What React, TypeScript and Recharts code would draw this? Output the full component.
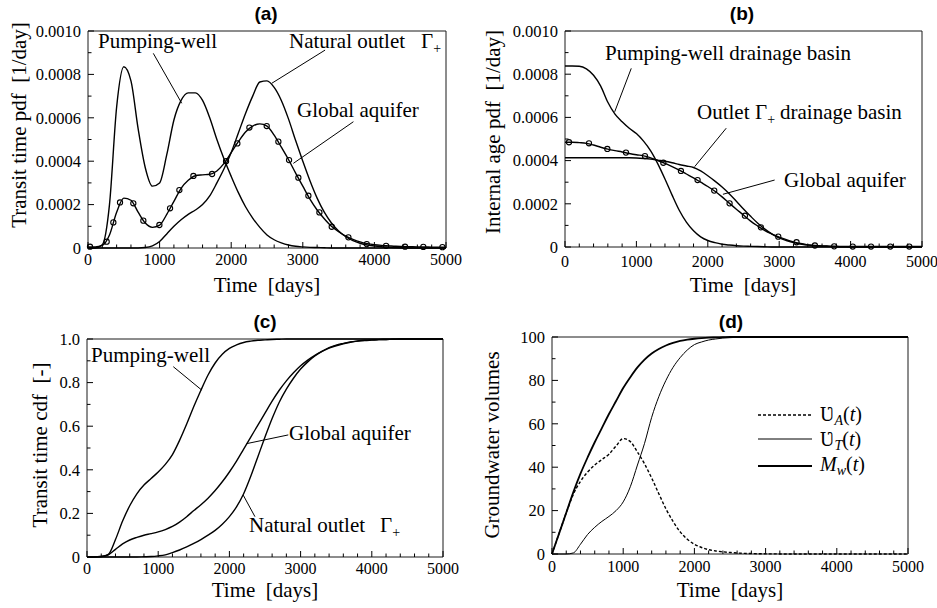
import React from 'react'
import { ComposedChart, Line, XAxis, YAxis, ReferenceArea, ReferenceLine } from 'recharts'

const SERIF = '"Liberation Serif", "Times New Roman", serif'
const SANS = '"Liberation Sans", Arial, sans-serif'

// time grid, days
const days = [
  0, 100, 200, 300, 400, 500, 600, 700, 800, 900, 1000, 1100, 1200, 1300, 1400, 1500, 1600, 1700,
  1800, 1900, 2000, 2100, 2200, 2300, 2400, 2500, 2600, 2700, 2800, 2900, 3000, 3100, 3200, 3300,
  3400, 3500, 3600, 3700, 3800, 3900, 4000, 4100, 4200, 4300, 4400, 4500, 4600, 4700, 4800, 4900, 5000,
]

// (a) transit time pdf, in 1e-4 / day
const pumpA = [
  0, 0, 0.15, 2.0, 6.5, 8.35, 7.7, 5.5, 3.7, 2.85, 3.0, 4.3, 5.9, 6.8, 7.15, 7.15, 6.8, 6.0, 5.0, 4.1,
  3.3, 2.55, 1.9, 1.38, 0.95, 0.6, 0.38, 0.24, 0.14, 0.08, 0.05, 0.03, 0.02, 0.01,
  0, 0, 0, 0, 0, 0, 0, 0, 0, 0, 0, 0, 0, 0, 0, 0, 0,
]
const outletA = [
  0, 0, 0, 0, 0, 0, 0, 0, 0.02, 0.1, 0.3, 0.65, 1.0, 1.3, 1.55, 1.75, 2.0, 2.4, 3.0, 3.65, 4.4, 5.3,
  6.2, 7.0, 7.65, 7.7, 7.4, 6.8, 5.95, 4.95, 4.0, 3.1, 2.3, 1.65, 1.15, 0.78, 0.52, 0.34, 0.22, 0.14,
  0.09, 0.06, 0.04, 0.02, 0.01, 0, 0, 0, 0, 0, 0,
]
const globalA = [
  0.05, 0.05, 0.12, 0.6, 1.65, 2.3, 2.2, 1.65, 1.15, 0.95, 1.05, 1.55, 2.15, 2.75, 3.12, 3.33, 3.37,
  3.4, 3.55, 3.9, 4.4, 4.9, 5.35, 5.62, 5.72, 5.62, 5.2, 4.65, 4.08, 3.45, 2.85, 2.25, 1.75, 1.35, 1.0,
  0.75, 0.55, 0.4, 0.28, 0.2, 0.15, 0.12, 0.1, 0.08, 0.07, 0.06, 0.05, 0.05, 0.04, 0.04, 0.04,
]
const markDaysA = [28, 261, 354, 447, 633, 773, 997, 1146, 1276, 1472, 1733, 1928, 2086, 2254, 2496, 2659, 2808, 2938, 3078, 3232, 3404, 3637, 3893, 4163, 4428, 4683, 4950]
const markValsA = [0.06, 0.29, 1.18, 2.1, 2.06, 1.26, 1.06, 1.83, 2.67, 3.32, 3.41, 4.0, 4.82, 5.55, 5.62, 4.9, 4.05, 3.24, 2.41, 1.64, 0.98, 0.49, 0.18, 0.1, 0.06, 0.05, 0.04]

// (b) internal age pdf, in 1e-4 / day
const pumpB = [
  8.38, 8.38, 8.37, 8.25, 7.95, 7.45, 6.7, 6.15, 5.8, 5.5, 5.25, 4.9, 4.45, 3.85, 3.15, 2.4, 1.7, 1.15,
  0.75, 0.47, 0.3, 0.2, 0.13, 0.09, 0.06, 0.04, 0.03, 0.02, 0.01,
  0, 0, 0, 0, 0, 0, 0, 0, 0, 0, 0, 0, 0, 0, 0, 0, 0, 0, 0, 0, 0, 0,
]
const outletB = [
  4.13, 4.13, 4.13, 4.13, 4.13, 4.13, 4.13, 4.13, 4.13, 4.13, 4.12, 4.1, 4.07, 4.02, 3.97, 3.9, 3.82,
  3.75, 3.68, 3.52, 3.3, 3.05, 2.78, 2.47, 2.12, 1.76, 1.42, 1.1, 0.83, 0.6, 0.42, 0.3, 0.2, 0.14,
  0.09, 0.06, 0.04, 0.03, 0.02, 0.01, 0, 0, 0, 0, 0, 0, 0, 0, 0, 0, 0,
]
const globalB = [
  4.85, 4.85, 4.83, 4.8, 4.72, 4.62, 4.53, 4.46, 4.4, 4.33, 4.27, 4.22, 4.13, 4.0, 3.87, 3.72, 3.56,
  3.38, 3.2, 3.0, 2.8, 2.58, 2.32, 2.03, 1.75, 1.48, 1.2, 0.97, 0.76, 0.6, 0.46, 0.34, 0.24, 0.16, 0.1,
  0.07, 0.05, 0.04, 0.03, 0.02, 0.02, 0.02, 0.02, 0.02, 0.02, 0.02, 0.02, 0.02, 0.02, 0.02, 0.02,
]
const markDaysB = [56, 336, 593, 854, 1120, 1377, 1624, 1857, 2090, 2305, 2520, 2744, 2987, 3243, 3500, 3770, 4030, 4286, 4556, 4822]
const markValsB = [4.85, 4.8, 4.54, 4.37, 4.21, 3.9, 3.52, 3.1, 2.61, 2.02, 1.45, 0.91, 0.48, 0.22, 0.07, 0.03, 0.02, 0.02, 0.02, 0.02]

// (c) transit time cdf
const pumpC = [
  0, 0, 0.002, 0.012, 0.08, 0.165, 0.235, 0.29, 0.33, 0.36, 0.39, 0.425, 0.47, 0.535, 0.61, 0.69,
  0.765, 0.835, 0.89, 0.93, 0.957, 0.973, 0.984, 0.99, 0.994, 0.996, 0.998, 0.999,
  1, 1, 1, 1, 1, 1, 1, 1, 1, 1, 1, 1, 1, 1, 1, 1, 1, 1, 1, 1, 1, 1, 1,
]
const globalC = [
  0, 0, 0.002, 0.01, 0.035, 0.06, 0.078, 0.09, 0.1, 0.107, 0.115, 0.126, 0.14, 0.16, 0.185, 0.213,
  0.24, 0.27, 0.305, 0.345, 0.39, 0.44, 0.495, 0.55, 0.605, 0.66, 0.715, 0.765, 0.808, 0.845, 0.877,
  0.903, 0.925, 0.943, 0.958, 0.969, 0.978, 0.985, 0.99, 0.993, 0.995, 0.997, 0.998, 0.999,
  1, 1, 1, 1, 1, 1, 1,
]
const outletC = [
  0, 0, 0, 0, 0, 0, 0, 0, 0.001, 0.002, 0.005, 0.01, 0.02, 0.032, 0.046, 0.062, 0.08, 0.1, 0.122,
  0.15, 0.185, 0.23, 0.29, 0.37, 0.46, 0.55, 0.635, 0.71, 0.77, 0.82, 0.862, 0.895, 0.922, 0.943,
  0.96, 0.972, 0.98, 0.987, 0.991, 0.994, 0.996, 0.997, 0.998, 0.999, 1, 1, 1, 1, 1, 1, 1,
]

// (d) groundwater volumes
const upsA = [
  0, 9.5, 19, 27.5, 33.5, 37.8, 41, 43.5, 46, 49.8, 53.2, 51.8, 47, 41.5, 35, 27.8, 20.8, 15, 10.2,
  6.8, 4.5, 3, 2, 1.4, 1, 0.7, 0.45, 0.3, 0.2, 0.12, 0.08, 0.05, 0.03, 0.02, 0.01,
  0, 0, 0, 0, 0, 0, 0, 0, 0, 0, 0, 0, 0, 0, 0, 0,
]
const upsT = [
  0, 0, 0, 0.5, 4.5, 9, 12.3, 15, 17.3, 20, 24, 31, 41, 51, 63, 72.5, 80, 86, 90.5, 94, 96.5, 97.7,
  98.6, 99.1, 99.5, 99.7, 99.85, 99.93, 100, 100, 100, 100, 100, 100, 100, 100, 100, 100, 100, 100,
  100, 100, 100, 100, 100, 100, 100, 100, 100, 100, 100,
]
const massW = [
  0, 9.5, 19, 28.5, 37, 44.5, 51.5, 58, 64.5, 70.5, 76.5, 81.5, 86, 89.6, 92.4, 94.5, 96.1, 97.3,
  98.2, 98.8, 99.2, 99.5, 99.7, 99.8, 99.9, 100, 100, 100, 100, 100, 100, 100, 100, 100, 100, 100,
  100, 100, 100, 100, 100, 100, 100, 100, 100, 100, 100, 100, 100, 100, 100,
]

const xTicks = [0, 200, 400, 600, 800, 1000, 1200, 1400, 1600, 1800, 2000, 2200, 2400, 2600, 2800, 3000, 3200, 3400, 3600, 3800, 4000, 4200, 4400, 4600, 4800, 5000]
const pdfTicks = [0, 0.0001, 0.0002, 0.0003, 0.0004, 0.0005, 0.0006, 0.0007, 0.0008, 0.0009, 0.001]
const cdfTicks = [0, 0.1, 0.2, 0.3, 0.4, 0.5, 0.6, 0.7, 0.8, 0.9, 1]
const volTicks = [0, 10, 20, 30, 40, 50, 60, 70, 80, 90, 100]

const E4 = 1e-4
const rowsA = days.map((t, i) => ({ t, pump: pumpA[i] * E4, outlet: outletA[i] * E4, global: globalA[i] * E4 }))
const rowsB = days.map((t, i) => ({ t, pump: pumpB[i] * E4, outlet: outletB[i] * E4, global: globalB[i] * E4 }))
const rowsC = days.map((t, i) => ({ t, pump: pumpC[i], outlet: outletC[i], global: globalC[i] }))
const rowsD = days.map((t, i) => ({ t, ua: upsA[i], ut: upsT[i], mw: massW[i] }))
const marksA = markDaysA.map((t, i) => ({ t, v: markValsA[i] * E4 }))
const marksB = markDaysB.map((t, i) => ({ t, v: markValsB[i] * E4 }))

// leader lines from labels to curves, [day, value]
type Pt = [number, number]
const leadersA: [Pt, Pt][] = [
  [[912, 8.97 * E4], [1309, 6.67 * E4]],
  [[3311, 9.12 * E4], [2566, 7.59 * E4]],
  [[3707, 5.82 * E4], [2868, 3.9 * E4]],
]
const leadersB: [Pt, Pt][] = [
  [[928, 8.27 * E4], [696, 6.26 * E4]],
  [[2258, 5.5 * E4], [1816, 3.72 * E4]],
  [[2936, 3.1 * E4], [2212, 2.44 * E4]],
]
const leadersC: [Pt, Pt][] = [
  [[1212, 0.873], [1610, 0.766]],
  [[2827, 0.56], [2242, 0.52]],
  [[2359, 0.185], [2194, 0.284]],
]

const near = (v: number, step: number) => Math.abs(v / step - Math.round(v / step)) < 1e-6

function XTick(props: any) {
  const { x, y, payload, labelDy } = props
  const v = payload.value
  const major = near(v, 1000)
  return (
    <g>
      <line x1={x} x2={x} y1={y} y2={y - (major ? 6 : 3.5)} stroke="#000" strokeWidth={1} />
      {major && (
        <text x={x} y={y + labelDy} textAnchor={v === 5000 ? 'end' : 'middle'} dx={v === 5000 ? 16 : 0} fontFamily={SERIF} fontSize={16} fill="#000">
          {v}
        </text>
      )}
    </g>
  )
}

function YTick(props: any) {
  const { x, y, payload, step, fmt } = props
  const v = payload.value
  const major = near(v, step)
  return (
    <g>
      <line x1={x} x2={x + (major ? 6 : 3.5)} y1={y} y2={y} stroke="#000" strokeWidth={1} />
      {major && (
        <text x={x - 7} y={y} dy="0.35em" textAnchor="end" fontFamily={SERIF} fontSize={16.5} fill="#000">
          {fmt(v)}
        </text>
      )}
    </g>
  )
}

interface SeriesDef {
  key: string
  width: number
  dash?: string
}

interface PanelProps {
  left: number
  top: number
  width: number
  height: number
  margin: { top: number; right: number; bottom: number; left: number }
  rows: any[]
  series: SeriesDef[]
  yMax: number
  yTicks: number[]
  yStep: number
  yFmt: (v: number) => string
  xLabelDy: number
  marks?: { t: number; v: number }[]
  leaders?: [Pt, Pt][]
}

function Panel(p: PanelProps) {
  return (
    <div style={{ position: 'absolute', left: p.left, top: p.top }}>
      <ComposedChart width={p.width} height={p.height} data={p.rows} margin={p.margin}>
        <XAxis
          dataKey="t"
          type="number"
          domain={[0, 5000]}
          ticks={xTicks}
          interval={0}
          height={30}
          axisLine={false}
          tickLine={false}
          tickSize={0}
          tickMargin={0}
          tick={(tp: any) => <XTick {...tp} labelDy={p.xLabelDy} />}
        />
        <YAxis
          type="number"
          domain={[0, p.yMax]}
          ticks={p.yTicks}
          interval={0}
          width={60}
          axisLine={false}
          tickLine={false}
          tickSize={0}
          tickMargin={0}
          tick={(tp: any) => <YTick {...tp} step={p.yStep} fmt={p.yFmt} />}
        />
        <ReferenceArea x1={0} x2={5000} y1={0} y2={p.yMax} fill="none" stroke="#1a1a1a" strokeWidth={1} />
        {(p.leaders || []).map((s, i) => (
          <ReferenceLine
            key={'l' + i}
            segment={[{ x: s[0][0], y: s[0][1] }, { x: s[1][0], y: s[1][1] }]}
            stroke="#000"
            strokeWidth={1}
          />
        ))}
        {p.series.map((s) => (
          <Line
            key={s.key}
            dataKey={s.key}
            type="monotone"
            stroke="#000"
            strokeWidth={s.width}
            strokeDasharray={s.dash}
            dot={false}
            activeDot={false}
            isAnimationActive={false}
          />
        ))}
        {p.marks && (
          <Line
            data={p.marks}
            dataKey="v"
            stroke="none"
            strokeWidth={0}
            activeDot={false}
            isAnimationActive={false}
            dot={(d: any) => (
              <circle key={'m' + d.index} cx={d.cx} cy={d.cy} r={2.6} fill="none" stroke="#000" strokeWidth={1.1} />
            )}
          />
        )}
      </ComposedChart>
    </div>
  )
}

const pdfFmt = (v: number) => (v === 0 ? '0' : v.toFixed(4))
const cdfFmt = (v: number) => (v === 0 ? '0' : v.toFixed(1))
const volFmt = (v: number) => String(v)

const pdfSeries: SeriesDef[] = [
  { key: 'pump', width: 1.4 },
  { key: 'outlet', width: 1.4 },
  { key: 'global', width: 1.4 },
]

function Gamma({ x, y }: { x: number; y: number }) {
  return (
    <text x={x} y={y} fontFamily={SERIF} fontSize={21} fill="#000">
      Γ<tspan dy={5} fontSize={14}>+</tspan>
    </text>
  )
}

function Overlay() {
  const t = { fontFamily: SERIF, fontSize: 21, fill: '#000' }
  const title = { fontFamily: SANS, fontSize: 19, fontWeight: 700, fill: '#000', textAnchor: 'middle' as const }
  const pre = { whiteSpace: 'pre' as const }
  return (
    <svg width={937} height={608} style={{ position: 'absolute', left: 0, top: 0, pointerEvents: 'none' }}>
      <text x={266} y={20} {...title}>(a)</text>
      <text x={742} y={20} {...title}>(b)</text>
      <text x={265} y={328} {...title}>(c)</text>
      <text x={731} y={328} {...title}>(d)</text>

      <text x={267} y={292} textAnchor="middle" style={pre} {...t}>Time  [days]</text>
      <text x={743} y={292} textAnchor="middle" style={pre} {...t}>Time  [days]</text>
      <text x={265} y={597} textAnchor="middle" style={pre} {...t}>Time  [days]</text>
      <text x={730} y={597} textAnchor="middle" style={pre} {...t}>Time  [days]</text>

      <text transform="translate(26,125) rotate(-90)" textAnchor="middle" style={pre} {...t}>Transit time pdf  [1/day]</text>
      <text transform="translate(500,132) rotate(-90)" textAnchor="middle" style={pre} {...t}>Internal age pdf  [1/day]</text>
      <text transform="translate(47,445) rotate(-90)" textAnchor="middle" style={pre} {...t}>Transit time cdf  [-]</text>
      <text transform="translate(499,445) rotate(-90)" textAnchor="middle" style={pre} {...t}>Groundwater volumes</text>

      {/* panel (a) labels */}
      <text x={98} y={48} {...t}>Pumping-well</text>
      <text x={289} y={48} {...t}>Natural outlet</text>
      <Gamma x={421} y={48} />
      <text x={297} y={117} {...t}>Global aquifer</text>

      {/* panel (b) labels */}
      <text x={605} y={60} {...t}>Pumping-well drainage basin</text>
      <text x={697} y={119} {...t}>Outlet</text>
      <Gamma x={755} y={119} />
      <text x={780} y={119} {...t}>drainage basin</text>
      <text x={784} y={187} {...t}>Global aquifer</text>

      {/* panel (c) labels */}
      <text x={91} y={362} {...t}>Pumping-well</text>
      <text x={289} y={440} {...t}>Global aquifer</text>
      <text x={249} y={532} {...t}>Natural outlet</text>
      <Gamma x={380} y={532} />

      {/* panel (d) legend */}
      <line x1={758} x2={812} y1={415} y2={415} stroke="#000" strokeWidth={1.4} strokeDasharray="3 2" />
      <line x1={758} x2={812} y1={439} y2={439} stroke="#000" strokeWidth={1} />
      <line x1={758} x2={812} y1={466} y2={466} stroke="#000" strokeWidth={1.8} />
      <text x={820} y={421} fontFamily={SERIF} fontSize={20} fill="#000">
        Ʋ<tspan dy={4} fontSize={14} fontStyle="italic">A</tspan>
        <tspan dy={-4}>(</tspan><tspan fontStyle="italic">t</tspan>)
      </text>
      <text x={820} y={446} fontFamily={SERIF} fontSize={20} fill="#000">
        Ʋ<tspan dy={4} fontSize={14} fontStyle="italic">T</tspan>
        <tspan dy={-4}>(</tspan><tspan fontStyle="italic">t</tspan>)
      </text>
      <text x={820} y={471} fontFamily={SERIF} fontSize={20} fill="#000">
        <tspan fontStyle="italic">M</tspan><tspan dy={4} fontSize={14} fontStyle="italic">w</tspan>
        <tspan dy={-4}>(</tspan><tspan fontStyle="italic">t</tspan>)
      </text>
    </svg>
  )
}

export default function App() {
  return (
    <div style={{ position: 'absolute', left: 0, top: 0, width: 937, height: 608, background: '#fff', overflow: 'hidden' }}>
      <Panel
        left={0} top={0} width={470} height={300}
        margin={{ top: 31, right: 24, bottom: 22, left: 28 }}
        rows={rowsA} series={pdfSeries}
        yMax={0.001} yTicks={pdfTicks} yStep={0.0002} yFmt={pdfFmt}
        xLabelDy={17} marks={marksA} leaders={leadersA}
      />
      <Panel
        left={468} top={0} width={469} height={300}
        margin={{ top: 31, right: 15, bottom: 23, left: 37 }}
        rows={rowsB} series={pdfSeries}
        yMax={0.001} yTicks={pdfTicks} yStep={0.0002} yFmt={pdfFmt}
        xLabelDy={20} marks={marksB} leaders={leadersB}
      />
      <Panel
        left={0} top={300} width={470} height={308}
        margin={{ top: 39, right: 27, bottom: 21, left: 27 }}
        rows={rowsC} series={pdfSeries}
        yMax={1} yTicks={cdfTicks} yStep={0.2} yFmt={cdfFmt}
        xLabelDy={17} leaders={leadersC}
      />
      <Panel
        left={468} top={300} width={469} height={308}
        margin={{ top: 37, right: 29, bottom: 24, left: 24 }}
        rows={rowsD}
        series={[
          { key: 'mw', width: 1.8 },
          { key: 'ut', width: 1 },
          { key: 'ua', width: 1.4, dash: '3 2' },
        ]}
        yMax={100} yTicks={volTicks} yStep={20} yFmt={volFmt}
        xLabelDy={18}
      />
      <Overlay />
    </div>
  )
}
